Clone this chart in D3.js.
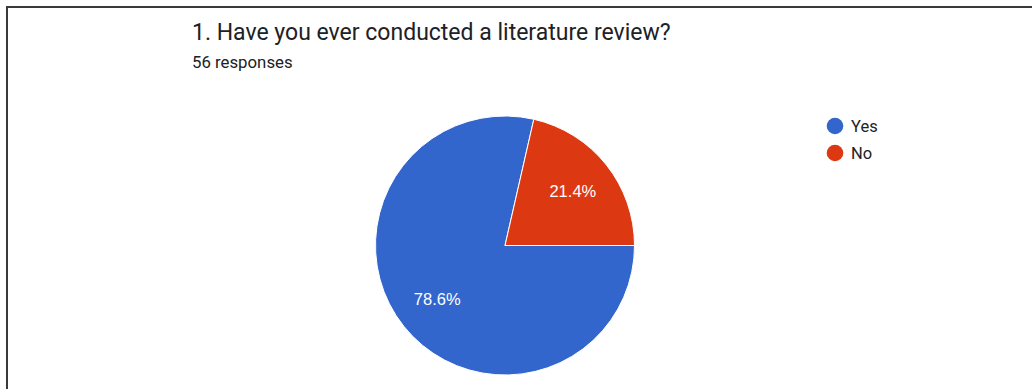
<!DOCTYPE html>
<html>
<head>
<meta charset="utf-8">
<script src="https://cdn.jsdelivr.net/npm/d3@7"></script>
<style>
  html, body { margin: 0; padding: 0; background: #fff; }
  svg { display: block; }
</style>
</head>
<body>
<svg id="chart" width="1032" height="389"></svg>
<script>
// Survey answers
const categories = ["Yes", "No"];
const counts = [44, 12];
const colors = ["#3366CC", "#DC3912"];
const title = "1. Have you ever conducted a literature review?";
const subtitle = "56 responses";

const svg = d3.select("#chart");
const W = 1032, H = 389;

// frame
svg.append("path")
  .attr("d", `M7,${H} V7 H${W}`)
  .attr("fill", "none")
  .attr("stroke", "#3a3a3a")
  .attr("stroke-width", 2);

// heading
svg.append("text")
  .attr("x", 192).attr("y", 40)
  .attr("font-family", "Roboto, sans-serif")
  .attr("font-size", 23)
  .attr("fill", "#202124")
  .text(title);

svg.append("text")
  .attr("x", 192).attr("y", 67.5)
  .attr("font-family", "Roboto, sans-serif")
  .attr("font-size", 16.8)
  .attr("fill", "#202124")
  .text(subtitle);

// pie
const cx = 505, cy = 245.5, R = 129.5;
const total = d3.sum(counts);
const pie = d3.pie().sort(null)
  .startAngle(Math.PI / 2).endAngle(Math.PI / 2 + 2 * Math.PI)
  .value(d => d);
const arcs = pie(counts);
const arc = d3.arc().innerRadius(0).outerRadius(R);
const labelArc = d3.arc().innerRadius(R * 0.67).outerRadius(R * 0.67);

const g = svg.append("g").attr("transform", `translate(${cx},${cy})`);
g.selectAll("path.slice")
  .data(arcs)
  .join("path")
  .attr("class", "slice")
  .attr("d", arc)
  .attr("fill", (d, i) => colors[i])
  .attr("stroke", "#fff")
  .attr("stroke-width", 1);

const fmt = d3.format(".1%");
g.selectAll("text.pct")
  .data(arcs)
  .join("text")
  .attr("class", "pct")
  .attr("transform", d => `translate(${labelArc.centroid(d)})`)
  .attr("text-anchor", "middle")
  .attr("dy", "0.35em")
  .attr("font-family", "Arial, 'Liberation Sans', sans-serif")
  .attr("font-size", 16.5)
  .attr("fill", "#fff")
  .text(d => fmt(d.value / total));

// legend
const legend = svg.append("g").attr("transform", "translate(835,126)");
const items = legend.selectAll("g")
  .data(categories)
  .join("g")
  .attr("transform", (d, i) => `translate(0,${i * 27})`);
items.append("circle")
  .attr("r", 8.3)
  .attr("fill", (d, i) => colors[i]);
items.append("text")
  .attr("x", 16).attr("y", 5.5)
  .attr("font-family", "Roboto, sans-serif")
  .attr("font-size", 16.5)
  .attr("fill", "#222")
  .text(d => d);
</script>
</body>
</html>
